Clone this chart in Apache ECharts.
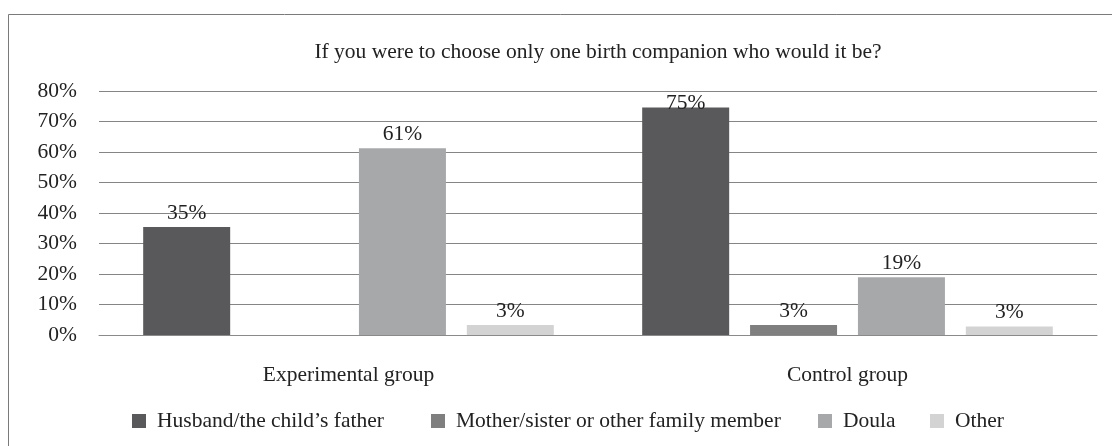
<!DOCTYPE html>
<html>
<head>
<meta charset="utf-8">
<title>Birth companion</title>
<script src="https://cdn.jsdelivr.net/npm/echarts@6/dist/echarts.min.js"></script>
<style>
    html, body { margin: 0; padding: 0; background: #fff; }
    #main { width: 1112px; height: 446px; }
</style>
</head>
<body>
<div id="main"></div>
<script>
// 数据
const categories = ['Experimental group', 'Control group'];
const seriesNames = ['Husband/the child\u2019s father', 'Mother/sister or other family member', 'Doula', 'Other'];
const husband = [35.4, 74.6];
const mother = [0, 3.3];
const doula = [61.2, 18.9];
const other = [3.3, 2.8];
const yTicks = [0, 10, 20, 30, 40, 50, 60, 70, 80];

const colors = ['#59595b', '#7f7f80', '#a7a8aa', '#d3d3d4'];
const textColor = '#222';
const font = 'Liberation Serif';
const fontSize = 21.5;

// 图例位置（每项单独放置）
const legendLeft = [132, 431, 818, 930];

document.addEventListener('DOMContentLoaded', function () {
    const myChart = echarts.init(document.getElementById('main'), null, { renderer: 'canvas' });

    const values = [husband, mother, doula, other];
    const yMax = yTicks[yTicks.length - 1];

    const option = {
        animation: false,
        textStyle: { fontFamily: font, color: textColor },
        title: {
            text: 'If you were to choose only one birth companion who would it be?',
            left: 593,
            top: 36,
            textAlign: 'center',
            textStyle: { fontFamily: font, fontSize: fontSize, fontWeight: 'normal', color: textColor }
        },
        legend: seriesNames.map((name, i) => ({
            data: [name],
            left: legendLeft[i],
            top: 410,
            itemWidth: 14,
            itemHeight: 14,
            icon: 'rect',
            padding: 0,
            textStyle: { fontFamily: font, fontSize: fontSize, color: textColor, padding: [0, 0, 0, 6] }
        })),
        grid: { left: 99, right: 15, top: 91, bottom: 111, containLabel: false },
        xAxis: {
            type: 'category',
            data: categories,
            axisTick: { show: false },
            axisLine: { lineStyle: { color: '#8a8a8a', width: 1 } },
            axisLabel: { fontFamily: font, fontSize: fontSize, color: textColor, margin: 29 }
        },
        yAxis: {
            type: 'value',
            min: yTicks[0],
            max: yMax,
            interval: 10,
            axisLine: { show: false },
            axisTick: { show: false },
            splitLine: { lineStyle: { color: '#858585', width: 1 } },
            axisLabel: {
                fontFamily: font, fontSize: fontSize, color: textColor, margin: 22,
                formatter: v => v + '%'
            }
        },
        graphic: [{
            type: 'rect',
            shape: { x: 8.5, y: 14.5, width: 1120, height: 450 },
            style: { fill: 'none', stroke: '#7a7a7a', lineWidth: 1 },
            silent: true
        }],
        series: seriesNames.map((name, i) => ({
            name: name,
            type: 'bar',
            // 靠近顶部的标签被压回绘图区内
            data: values[i].map(v => v > yMax - 8 ? { value: v, label: { offset: [0, 10] } } : v),
            barWidth: 87,
            barGap: '24%',
            itemStyle: { color: colors[i] },
            label: {
                show: true,
                position: 'top',
                distance: 3,
                fontFamily: font,
                fontSize: fontSize,
                color: textColor,
                formatter: p => p.value > 0 ? Math.round(p.value) + '%' : ''
            }
        }))
    };

    myChart.setOption(option);
});
</script>
</body>
</html>
